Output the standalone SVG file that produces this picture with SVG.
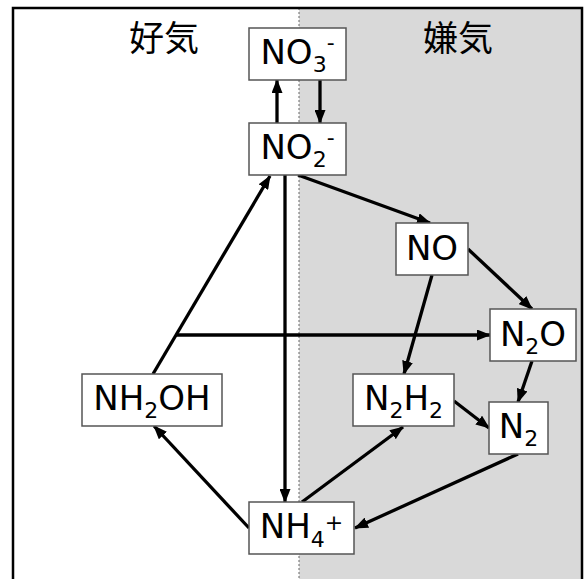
<svg xmlns="http://www.w3.org/2000/svg" width="585" height="579" viewBox="0 0 585 579">
<style>
.box{fill:#fff;stroke:#555;stroke-width:1.5}
.lbl{font-family:"DejaVu Sans",sans-serif;font-size:34px;fill:#000;text-anchor:middle}
.s{font-size:22px}
.ttl{font-family:"Noto Sans CJK JP",sans-serif;font-size:35px;fill:#000;text-anchor:middle}
.c{stroke:#000;stroke-width:3.3;fill:none;marker-end:url(#ah)}
</style>
<defs>
<marker id="ah" markerUnits="userSpaceOnUse" markerWidth="14" markerHeight="11" refX="13" refY="5.5" orient="auto">
<path d="M0,0 L14,5.5 L0,11 z" fill="#000"/>
</marker>
</defs>
<g id="background">
<rect x="13" y="8" width="286" height="580" fill="#fff"/>
<rect x="299" y="8" width="283" height="580" fill="#d9d9d9"/>
<line x1="299" y1="8" x2="299" y2="579" stroke="#666" stroke-width="1" stroke-dasharray="2,2"/>
<path d="M13,585 L13,8 L582,8 L582,585" fill="none" stroke="#000" stroke-width="2.5"/>
<text class="ttl" x="164" y="51">好気</text>
<text class="ttl" x="458" y="51">嫌気</text>
</g>
<g id="connectors">
<line class="c" x1="277" y1="123" x2="277" y2="80"/>
<line class="c" x1="320" y1="80" x2="320" y2="123"/>
<line class="c" x1="298" y1="175" x2="430" y2="223"/>
<line class="c" x1="285" y1="175" x2="285" y2="502"/>
<line class="c" x1="153" y1="374" x2="270" y2="176"/>
<line class="c" x1="176" y1="335" x2="490" y2="335"/>
<line class="c" x1="468" y1="249" x2="532" y2="309"/>
<line class="c" x1="432" y1="275" x2="404" y2="374"/>
<line class="c" x1="532" y1="361" x2="518" y2="402"/>
<line class="c" x1="454" y1="401" x2="489" y2="428"/>
<line class="c" x1="302" y1="502" x2="403" y2="427"/>
<line class="c" x1="518" y1="454" x2="355" y2="528"/>
<line class="c" x1="249" y1="528" x2="154" y2="426"/>
</g>
<g id="node-NO3">
<rect class="box" x="249" y="28" width="97" height="52"/>
<text class="lbl" x="297.5" y="64">NO<tspan class="s" dy="8">3</tspan><tspan class="s" dy="-22">-</tspan></text>
</g>
<g id="node-NO2">
<rect class="box" x="249" y="123" width="97" height="52"/>
<text class="lbl" x="297.5" y="159">NO<tspan class="s" dy="8">2</tspan><tspan class="s" dy="-22">-</tspan></text>
</g>
<g id="node-NO">
<rect class="box" x="396" y="223" width="72" height="52"/>
<text class="lbl" x="432" y="260">NO</text>
</g>
<g id="node-N2O">
<rect class="box" x="490" y="309" width="86" height="52"/>
<text class="lbl" x="533" y="345.5">N<tspan class="s" dy="8">2</tspan><tspan dy="-8">O</tspan></text>
</g>
<g id="node-NH2OH">
<rect class="box" x="82" y="374" width="140" height="52"/>
<text class="lbl" x="152" y="410">NH<tspan class="s" dy="8">2</tspan><tspan dy="-8">OH</tspan></text>
</g>
<g id="node-N2H2">
<rect class="box" x="353" y="374" width="101" height="52"/>
<text class="lbl" x="403.5" y="410">N<tspan class="s" dy="8">2</tspan><tspan dy="-8">H</tspan><tspan class="s" dy="8">2</tspan></text>
</g>
<g id="node-N2">
<rect class="box" x="489" y="402" width="59" height="52"/>
<text class="lbl" x="518.5" y="438">N<tspan class="s" dy="8">2</tspan></text>
</g>
<g id="node-NH4">
<rect class="box" x="249" y="502" width="105" height="52"/>
<text class="lbl" x="301.5" y="537.5">NH<tspan class="s" dy="9">4</tspan><tspan class="s" dy="-17">+</tspan></text>
</g>
</svg>
